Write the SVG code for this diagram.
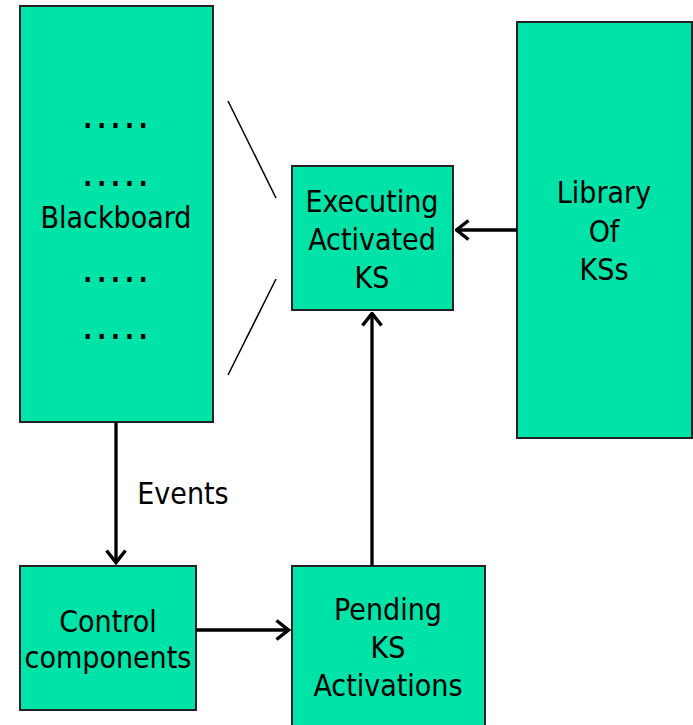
<svg xmlns="http://www.w3.org/2000/svg" width="693" height="725" viewBox="0 0 693 725">
<defs>
<style>
.box{fill:#00E3A8;stroke:#222;stroke-width:2}
.t{font-family:"DejaVu Sans",sans-serif;font-stretch:condensed;font-size:30px;fill:#000;text-anchor:middle}
.dots{font-family:"DejaVu Sans",sans-serif;font-stretch:condensed;font-weight:bold;font-size:26px;fill:#000;text-anchor:middle;letter-spacing:5px}
.c{stroke:#000;stroke-width:3.3;fill:none}
.thin{stroke:#000;stroke-width:1.5;fill:none}
</style>
<marker id="ah" viewBox="0 0 16 22" refX="14.5" refY="11" markerWidth="16" markerHeight="22" markerUnits="userSpaceOnUse" orient="auto">
<path d="M2,1.5 L14,11 L2,20.5" fill="none" stroke="#000" stroke-width="3.5"/>
</marker>
</defs>
<g id="blackboard">
<rect class="box" x="20" y="6" width="193" height="416"/>
<text class="dots" x="118" y="128">.....</text>
<text class="dots" x="118" y="186">.....</text>
<text class="t" x="116" y="228">Blackboard</text>
<text class="dots" x="118" y="282">.....</text>
<text class="dots" x="118" y="339">.....</text>
</g>
<g id="executing">
<rect class="box" x="292" y="166" width="161" height="144"/>
<text class="t" x="372" y="212">Executing</text>
<text class="t" x="372" y="250">Activated</text>
<text class="t" x="372" y="288">KS</text>
</g>
<g id="library">
<rect class="box" x="517" y="22" width="175" height="416"/>
<text class="t" x="604" y="203">Library</text>
<text class="t" x="604" y="242">Of</text>
<text class="t" x="604" y="280">KSs</text>
</g>
<g id="control">
<rect class="box" x="20" y="566" width="176" height="144"/>
<text class="t" x="108" y="632">Control</text>
<text class="t" x="108" y="668">components</text>
</g>
<g id="pending">
<rect class="box" x="292" y="566" width="193" height="170"/>
<text class="t" x="388" y="620">Pending</text>
<text class="t" x="388" y="658">KS</text>
<text class="t" x="388" y="696">Activations</text>
</g>
<g id="connectors">
<line class="thin" x1="228" y1="101" x2="276" y2="198"/>
<line class="thin" x1="228" y1="375" x2="276" y2="279"/>
<line class="c" x1="517" y1="230" x2="456" y2="230" marker-end="url(#ah)"/>
<line class="c" x1="372" y1="566" x2="372" y2="313" marker-end="url(#ah)"/>
<line class="c" x1="116" y1="422" x2="116" y2="563" marker-end="url(#ah)"/>
<line class="c" x1="196" y1="630" x2="289" y2="630" marker-end="url(#ah)"/>
<text class="t" x="183" y="504">Events</text>
</g>
</svg>
